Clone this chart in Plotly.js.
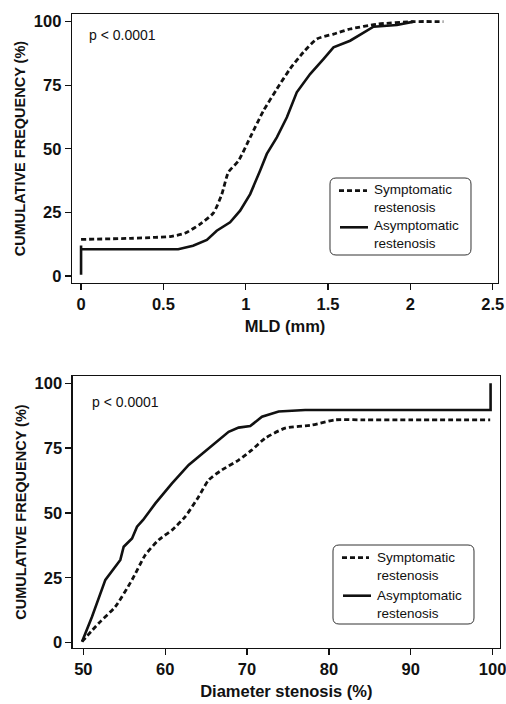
<!DOCTYPE html>
<html>
<head>
<meta charset="utf-8">
<script src="https://cdn.plot.ly/plotly-3.0.1.min.js"></script>
<style>html,body{margin:0;padding:0;background:#fff;}#chart{width:506px;height:704px;}</style>
</head>
<body>
<div id="chart"></div>
<script>
// ---- Data ----
// Top panel: cumulative frequency vs MLD (mm)
var mldSymX = [0, 0.3, 0.45, 0.54, 0.63, 0.723, 0.804, 0.855, 0.895, 0.956, 1.027, 1.108, 1.189, 1.27, 1.351, 1.432, 1.533, 1.634, 1.796, 2.02, 2.2];
var mldSymY = [14.4, 14.8, 15.2, 15.5, 16.8, 20.4, 24.8, 32.2, 40.8, 45.3, 54.5, 65, 73.5, 81.5, 88, 93.2, 95.1, 97.1, 99, 100, 100];
var mldAsyX = [0, 0, 0, 0.3, 0.59, 0.68, 0.764, 0.824, 0.905, 0.966, 1.027, 1.087, 1.128, 1.189, 1.25, 1.31, 1.391, 1.472, 1.533, 1.634, 1.715, 1.776, 1.918, 2.02];
var mldAsyY = [0.5, 12, 10.5, 10.5, 10.5, 11.9, 14.2, 17.8, 21.1, 25.7, 32.2, 41.4, 48, 54.5, 62.4, 72.2, 79.4, 85.3, 89.9, 92.5, 95.8, 98, 98.7, 100];

// Bottom panel: cumulative frequency vs diameter stenosis (%)
var dsSymX = [49.84, 51.88, 53.91, 55.95, 57.57, 59.2, 60.83, 62.45, 64.09, 65.31, 66.94, 68.97, 70.6, 72.2, 74.66, 77.92, 80.77, 84, 90, 99.7];
var dsSymY = [0.4, 7.5, 13.9, 24.2, 33.8, 39.6, 43.4, 48.6, 56.3, 62.7, 66.6, 70.4, 74.3, 78.8, 82.7, 83.9, 85.9, 85.9, 85.9, 85.9];
var dsAsyX = [49.84, 51.06, 52.69, 53.9, 54.52, 54.93, 55.95, 56.56, 57.3, 58.8, 60.83, 62.87, 65.31, 67.75, 68.97, 70.39, 71.82, 73.86, 77.1, 99.75, 99.75];
var dsAsyY = [0.4, 10, 24.2, 29.3, 31.9, 37, 40.2, 44.7, 47.3, 53.7, 61.4, 68.5, 74.9, 81.3, 82.9, 83.5, 87.1, 89.1, 89.7, 89.7, 100];

var seriesNames = ['Symptomatic<br>restenosis', 'Asymptomatic<br>restenosis'];
var yTicks = [0, 25, 50, 75, 100];
var yTickText = ['0', '25', '50', '75', '100'];
var mldTicks = [0, 0.5, 1, 1.5, 2, 2.5];
var mldTickText = ['0', '0.5', '1', '1.5', '2', '2.5'];
var dsTicks = [50, 60, 70, 80, 90, 100];
var dsTickText = ['50', '60', '70', '80', '90', '100'];
var pText = 'p < 0.0001';

// ---- Styles ----
var FONT = 'Liberation Sans, Arial, Helvetica, sans-serif';
var dashLine = {color: '#111', width: 2.8, dash: '5px,3px', shape: 'spline', smoothing: 0.6};
var solidLine = {color: '#111', width: 2.6};
var bold = function (arr) { return arr.map(function (t) { return '<b>' + t + '</b>'; }); };

var traces = [
  {x: mldSymX, y: mldSymY, xaxis: 'x', yaxis: 'y', mode: 'lines', name: seriesNames[0], line: dashLine, showlegend: false},
  {x: mldAsyX, y: mldAsyY, xaxis: 'x', yaxis: 'y', mode: 'lines', name: seriesNames[1], line: solidLine, showlegend: false},
  {x: dsSymX, y: dsSymY, xaxis: 'x2', yaxis: 'y2', mode: 'lines', name: seriesNames[0], line: dashLine, showlegend: false},
  {x: dsAsyX, y: dsAsyY, xaxis: 'x2', yaxis: 'y2', mode: 'lines', name: seriesNames[1], line: solidLine, showlegend: false}
];

function axisBase() {
  return {
    showline: true, mirror: true, linecolor: '#111', linewidth: 1.3,
    ticks: 'outside', ticklen: 6, tickwidth: 1.3, tickcolor: '#111',
    showgrid: false, zeroline: false, tickmode: 'array', ticklabeloverflow: 'allow',
    tickfont: {family: FONT, size: 16.5, color: '#111'}
  };
}
function titleFont(sz) { return {family: FONT, size: sz, color: '#111', weight: 'bold'}; }

var xa1 = Object.assign(axisBase(), {domain: [0, 0.9953], range: [-0.055, 2.532], tickvals: mldTicks, ticktext: bold(mldTickText), anchor: 'y',
  title: {text: '<b>MLD (mm)</b>', font: titleFont(16.5), standoff: 8}});
var ya1 = Object.assign(axisBase(), {domain: [0.5757, 1], range: [-2.75, 103], tickvals: yTicks, ticktext: bold(yTickText), anchor: 'x',
  title: {text: '<b>CUMULATIVE FREQUENCY (%)</b>', font: titleFont(14.5), standoff: 4}});
var xa2 = Object.assign(axisBase(), {domain: [0.0016, 1], range: [48.7, 100.9], tickvals: dsTicks, ticktext: bold(dsTickText), anchor: 'y2',
  title: {text: '<b>Diameter stenosis (%)</b>', font: titleFont(16.5), standoff: 8}});
var ya2 = Object.assign(axisBase(), {domain: [0, 0.429], range: [-2.05, 102.8], tickvals: yTicks, ticktext: bold(yTickText), anchor: 'x2',
  title: {text: '<b>CUMULATIVE FREQUENCY (%)</b>', font: titleFont(14.5), standoff: 4}});

// Custom legend boxes (rounded) + samples + text, positioned in axis-domain fractions
function roundRect(x0, y0, x1, y1, rx, ry) {
  return 'M' + (x0 + rx) + ',' + y0 + ' L' + (x1 - rx) + ',' + y0 +
    ' Q' + x1 + ',' + y0 + ' ' + x1 + ',' + (y0 + ry) +
    ' L' + x1 + ',' + (y1 - ry) + ' Q' + x1 + ',' + y1 + ' ' + (x1 - rx) + ',' + y1 +
    ' L' + (x0 + rx) + ',' + y1 + ' Q' + x0 + ',' + y1 + ' ' + x0 + ',' + (y1 - ry) +
    ' L' + x0 + ',' + (y0 + ry) + ' Q' + x0 + ',' + y0 + ' ' + (x0 + rx) + ',' + y0 + ' Z';
}

// panel pixel geometry (for converting legend placement)
var panels = [
  {xr: 'x domain', yr: 'y domain', left: 72, right: 498, top: 14, bottom: 283,
   box: [330, 178, 471, 255], samp: [[339, 367, 190.7], [340, 368, 227.3]], textX: 373, textY: [198, 234], p: [87, 35]},
  {xr: 'x2 domain', yr: 'y2 domain', left: 72.7, right: 500, top: 376, bottom: 648,
   box: [333, 545, 474, 624], samp: [[342, 369, 557.7], [343, 371, 595.7]], textX: 376.5, textY: [566, 604], p: [90, 402]}
];

var shapes = [], annotations = [];
panels.forEach(function (P) {
  var fx = function (px) { return (px - P.left) / (P.right - P.left); };
  var fy = function (py) { return (P.bottom - py) / (P.bottom - P.top); };
  var rx = 6 / (P.right - P.left), ry = 6 / (P.bottom - P.top);
  shapes.push({type: 'path', xref: P.xr, yref: P.yr,
    path: roundRect(fx(P.box[0]), fy(P.box[3]), fx(P.box[2]), fy(P.box[1]), rx, ry),
    line: {color: '#333', width: 1}, fillcolor: 'rgba(255,255,255,0)'});
  [dashLine, solidLine].forEach(function (ln, i) {
    shapes.push({type: 'line', xref: P.xr, yref: P.yr,
      x0: fx(P.samp[i][0]), x1: fx(P.samp[i][1]), y0: fy(P.samp[i][2]), y1: fy(P.samp[i][2]),
      line: {color: ln.color, width: ln.width, dash: ln.dash}});
    annotations.push({xref: P.xr, yref: P.yr, x: fx(P.textX), y: fy(P.textY[i]),
      xanchor: 'left', yanchor: 'middle', align: 'left', showarrow: false, text: seriesNames[i],
      borderpad: 0, font: {family: FONT, size: 13.5, color: '#111'}});
  });
  annotations.push({xref: P.xr, yref: P.yr, x: fx(P.p[0]), y: fy(P.p[1]), xanchor: 'left', yanchor: 'middle',
    showarrow: false, text: pText, font: {family: FONT, size: 14, color: '#111'}});
});

var layout = {
  width: 506, height: 704,
  margin: {l: 72, r: 6, t: 14, b: 56, pad: 0},
  paper_bgcolor: '#fff', plot_bgcolor: '#fff',
  font: {family: FONT, color: '#111'},
  showlegend: false,
  xaxis: xa1, yaxis: ya1, xaxis2: xa2, yaxis2: ya2,
  shapes: shapes, annotations: annotations
};

Plotly.newPlot('chart', traces, layout, {displayModeBar: false, staticPlot: true});
</script>
</body>
</html>
